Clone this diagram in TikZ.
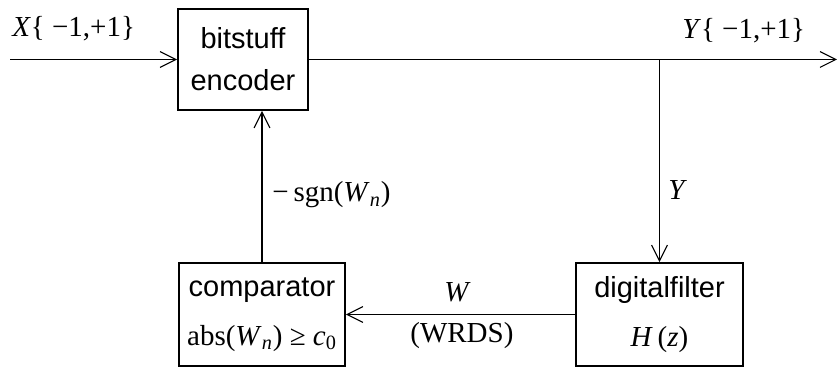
\documentclass[tikz,border=0pt]{standalone}
\usepackage{fontspec}
\setmainfont{Liberation Serif}
\setsansfont{Liberation Sans}
\usetikzlibrary{arrows.meta}

\tikzset{
  block/.style={draw, line width=1.1pt, inner sep=0pt, align=center,
    font=\sffamily\fontsize{16.5}{20}\selectfont},
  sig/.style={line width=0.6pt, -{Straight Barb[length=9pt,width=9pt]}},
  lbl/.style={inner sep=0pt, anchor=base west, font=\fontsize{16.5}{20}\selectfont}
}
\newcommand{\mv}[1]{\textit{#1}}

\begin{document}
\begin{tikzpicture}[x=0.02cm,y=-0.02cm]
\useasboundingbox (0,0) rectangle (839,367);

% blocks
\node[block, minimum width=2.6cm, minimum height=2.02cm] (enc) at (243,59.5) {bitstuff\\[4pt]encoder};
\node[block, minimum width=3.32cm, minimum height=2.06cm] (comp) at (262,314.5) {comparator\\[8pt]\rmfamily abs(\mv{W}\textsubscript{\mv{n}}) ≥ \mv{c}\textsubscript{0}};
\node[block, minimum width=3.34cm, minimum height=2.06cm] (filt) at (659.5,314.5) {digitalfilter\\[8pt]\rmfamily\mv{H}\,(\mv{z})};

\coordinate (in) at (10,59.5);
\coordinate (out) at (837,59.5);
\coordinate (br) at (filt.north |- enc.east);

% signals
\draw[sig] (in) -- (enc.west);
\draw[sig] (enc.east) -- (out);
\draw[sig] (br) -- (filt.north);
\draw[sig] (filt.west) -- (comp.east);
\draw[sig] (comp.north) -- (comp.north |- enc.south);

% labels
\node[lbl] (lx) at (12,37) {\mv{X}\{ −1,+1\}};
\node[lbl] (ly) at (682,39) {\mv{Y}\{ −1,+1\}};
\node[lbl] (lsgn) at (272,202) {−\,sgn(\mv{W}\textsubscript{\mv{n}})};
\node[lbl] (lyy) at (668,200) {\mv{Y}};
\node[lbl] (lw) at (444,302) {\mv{W}};
\node[lbl] (lwrds) at (410,343) {(WRDS)};
\end{tikzpicture}
\end{document}
